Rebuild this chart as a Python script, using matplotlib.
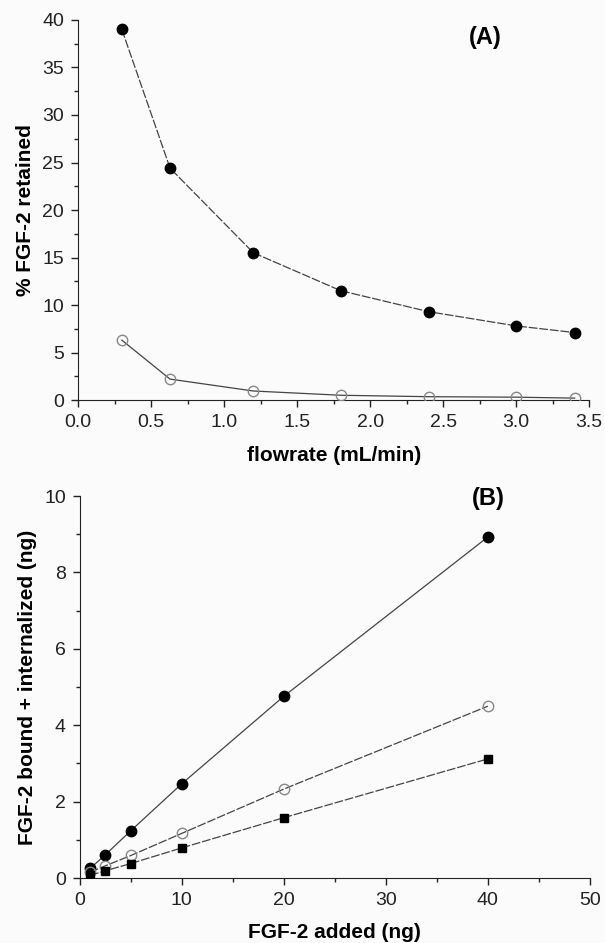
import numpy as np
import matplotlib.pyplot as plt

plt.rcParams['font.family'] = ['Liberation Sans', 'DejaVu Sans']

# panel A data
flow = [0.3, 0.63, 1.2, 1.8, 2.4, 3.0, 3.4]
ret_filled = [39.0, 24.4, 15.5, 11.5, 9.3, 7.8, 7.1]
ret_open = [6.3, 2.2, 0.95, 0.5, 0.35, 0.3, 0.2]

# panel B data
added = [1, 2.5, 5, 10, 20, 40]
bound_filled = [0.25, 0.61, 1.24, 2.47, 4.76, 8.93]
bound_open = [0.15, 0.32, 0.59, 1.17, 2.33, 4.50]
bound_square = [0.07, 0.19, 0.38, 0.79, 1.58, 3.12]

fig = plt.figure(figsize=(6.05, 9.43), dpi=100, facecolor='#fbfbfb')
lc = '#444444'

axA = fig.add_axes([0.129, 0.5758, 0.845, 0.403])
axA.plot(flow, ret_filled, color=lc, lw=0.9, ls=(0, (7, 1.5)), marker='o', ms=7.5,
         mfc='black', mec='black', zorder=3)
axA.plot(flow, ret_open, color=lc, lw=0.9, marker='o', ms=7.5,
         mfc='none', mec='#888888', mew=1.0, zorder=3)
axA.set_xlim(0, 3.5)
axA.set_ylim(0, 40)
axA.set_xticks(np.arange(0, 3.51, 0.5))
axA.set_xticks(np.arange(0.25, 3.5, 0.5), minor=True)
axA.set_yticks(np.arange(0, 41, 5))
axA.set_yticks(np.arange(2.5, 40, 5), minor=True)
axA.xaxis.set_major_formatter(plt.FormatStrFormatter('%.1f'))
axA.set_xlabel('flowrate (mL/min)', fontsize=15, fontweight='bold', labelpad=11)
axA.set_ylabel('% FGF-2 retained', fontsize=15, fontweight='bold', labelpad=5)
axA.text(2.79, 38.2, '(A)', fontsize=17, fontweight='bold', ha='center', va='center')

axB = fig.add_axes([0.132, 0.0689, 0.843, 0.405])
axB.plot(added, bound_filled, color=lc, lw=0.9, marker='o', ms=7.5,
         mfc='black', mec='black', zorder=3)
axB.plot(added, bound_open, color=lc, lw=0.9, ls=(0, (7, 1.5)), marker='o', ms=7.5,
         mfc='none', mec='#888888', mew=1.0, zorder=3)
axB.plot(added, bound_square, color=lc, lw=0.9, ls=(0, (7, 1.5)), marker='s', ms=6.3,
         mfc='black', mec='black', zorder=3)
axB.set_xlim(0, 50)
axB.set_ylim(0, 10)
axB.set_xticks(np.arange(0, 51, 10))
axB.set_xticks(np.arange(5, 50, 10), minor=True)
axB.set_yticks(np.arange(0, 11, 2))
axB.set_yticks(np.arange(1, 10, 2), minor=True)
axB.set_xlabel('FGF-2 added (ng)', fontsize=15, fontweight='bold', labelpad=10)
axB.set_ylabel('FGF-2 bound + internalized (ng)', fontsize=15, fontweight='bold', labelpad=5)
axB.text(40, 9.95, '(B)', fontsize=17, fontweight='bold', ha='center', va='center')

for ax in (axA, axB):
    ax.set_facecolor('#fbfbfb')
    ax.spines['top'].set_visible(False)
    ax.spines['right'].set_visible(False)
    ax.spines['left'].set_color('#222222')
    ax.spines['bottom'].set_color('#222222')
    ax.tick_params(which='major', direction='out', length=5, width=1, labelsize=14,
                   colors='#222222', pad=5)
    ax.tick_params(which='minor', direction='out', length=3, width=1, colors='#222222')
    for sp in ax.spines.values():
        sp.set_clip_on(False)

fig.savefig('out.png', dpi=100, facecolor=fig.get_facecolor())
